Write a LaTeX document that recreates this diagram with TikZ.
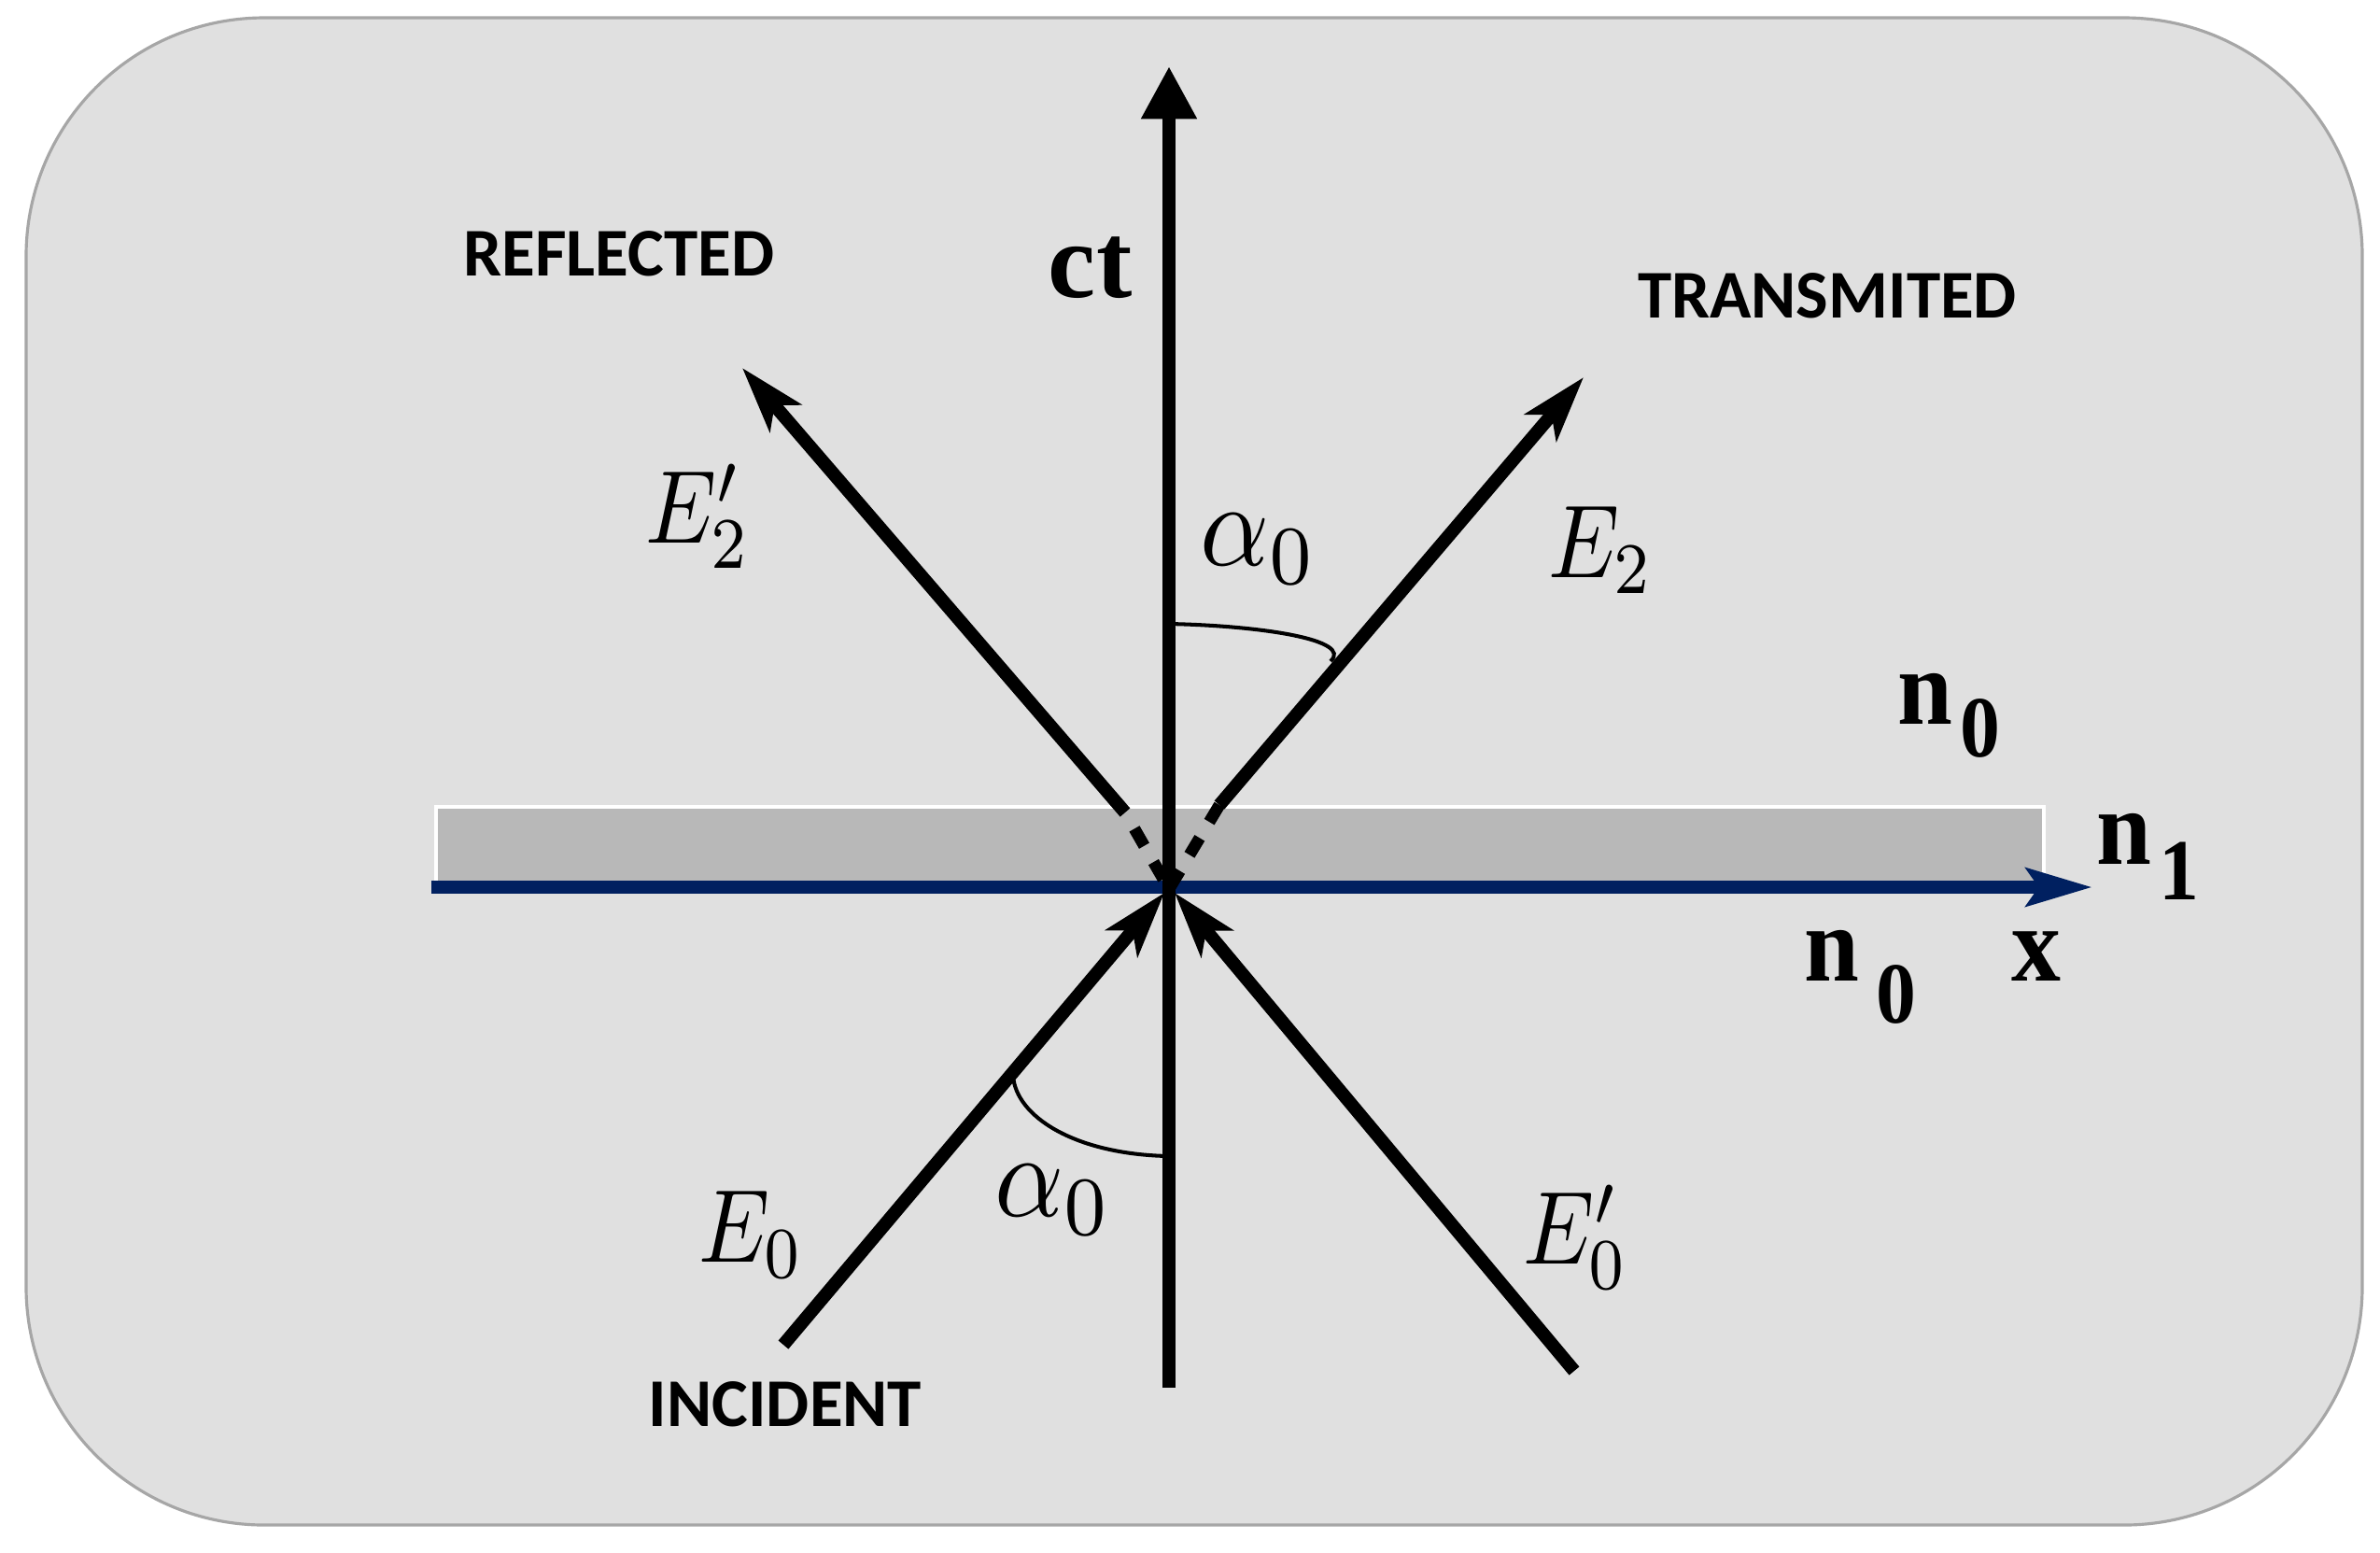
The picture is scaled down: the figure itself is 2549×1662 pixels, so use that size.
\documentclass[tikz,border=0pt]{standalone}
\usepackage{fontspec}
\usetikzlibrary{arrows.meta}
\newfontfamily\capsfont{Carlito}
\newfontfamily\serifbf{Liberation Serif}
\definecolor{bgfill}{HTML}{E0E0E0}
\definecolor{bgline}{HTML}{A6A6A6}
\definecolor{slabfill}{HTML}{B8B8B8}
\definecolor{axisblue}{HTML}{002060}
\tikzset{
  ray/.style={line width=4pt, -{Stealth[length=20pt,width=12.5pt,inset=5pt]}},
  dashray/.style={line width=3.6pt, dash pattern=on 6pt off 5.7pt},
  anglearc/.style={line width=1.15pt},
  capslabel/.style={font=\capsfont\bfseries\fontsize{20.8}{24}\selectfont, inner sep=0pt, anchor=base},
  serfont/.style={font=\serifbf\bfseries\fontsize{32.7}{36}\selectfont, inner sep=0pt},
  nlabel/.style={serfont, anchor=base west, xscale=0.92},
  elabel/.style={inner sep=0pt, xscale=2.72, yscale=3.16},
  alabel/.style={inner sep=0pt, xscale=3.28, yscale=3.64},
}
\begin{document}
\begin{tikzpicture}[x=0.01cm,y=-0.01cm]
\useasboundingbox (0,0) rectangle (2549,1662);
\fill[white] (0,0) rectangle (2549,1662);
% frame
\draw[bgline, fill=bgfill, line width=0.9pt, rounded corners=2.55cm] (28,19) rectangle (2530,1633);
% slab
\draw[white, fill=slabfill, line width=1.1pt] (467,864) rectangle (2189,952);
% coordinates
\coordinate (O) at (1252,952);
\coordinate (Rtip) at (795,394);
\coordinate (R0) at (1205,870);
\coordinate (Ttip) at (1696,404);
\coordinate (T0) at (1306,862);
\coordinate (Istart) at (839,1440);
\coordinate (Itip) at (1247,956);
\coordinate (Pstart) at (1686,1468);
\coordinate (Ptip) at (1258,956);
\coordinate (Vbot) at (1252,1486);
\coordinate (Vtop) at (1252,71);
\coordinate (Xl) at (462,950);
\coordinate (Xr) at (2241,950);
% x axis
\draw[axisblue, line width=4pt, -{Stealth[length=20pt,width=11.4pt,inset=3.7pt]}] (Xl) -- (Xr);
% dashed parts inside slab
\draw[dashray, dash phase=6pt] (R0) -- (O);
\draw[dashray] (T0) -- (O);
% rays
\draw[ray] (Istart) -- (Itip);
\draw[ray] (Pstart) -- (Ptip);
\draw[ray] (R0) -- (Rtip);
\draw[ray] (T0) -- (Ttip);
% ct axis
\draw[line width=3.8pt, -{Triangle[length=16pt,width=16pt]}] (Vbot) -- (Vtop);
% angle arcs
\draw[anglearc] (1252,668) .. controls (1350,670) and (1450,685) .. (1425,708);
\draw[anglearc] (1085,1152) .. controls (1088,1195) and (1150,1236) .. (1252,1238);
% labels
\node[capslabel] (refl) at (663,295) {REFLECTED};
\node[capslabel] (trans) at (1957,340) {TRANSMITED};
\node[capslabel] (inc) at (841,1527) {INCIDENT};
\node[serfont, anchor=base east] (ct) at (1213,318) {ct};
\node[nlabel] (nzu) at (2032,775) {n\hspace{2.5pt}\raisebox{-10pt}{\fontsize{26.5}{30}\selectfont 0}};
\node[nlabel] (none) at (2245,925) {n\hspace{2.5pt}\raisebox{-10.8pt}{\fontsize{26.5}{30}\selectfont 1}};
\node[nlabel] (nzl) at (1932,1050) {n\hspace{5.6pt}\raisebox{-12.8pt}{\fontsize{26.5}{30}\selectfont 0}};
\node[nlabel] (xl) at (2154,1050) {x};
\node[elabel] (e2p) at (748,553) {$E'_2$};
\node[elabel] (e2) at (1715,589) {$E_2$};
\node[elabel] (e0) at (805,1322) {$E_0$};
\node[elabel] (e0p) at (1688,1325) {$E'_0$};
\node[alabel] (a1) at (1348,588) {$\alpha_0$};
\node[alabel] (a2) at (1128,1285) {$\alpha_0$};
\end{tikzpicture}
\end{document}
